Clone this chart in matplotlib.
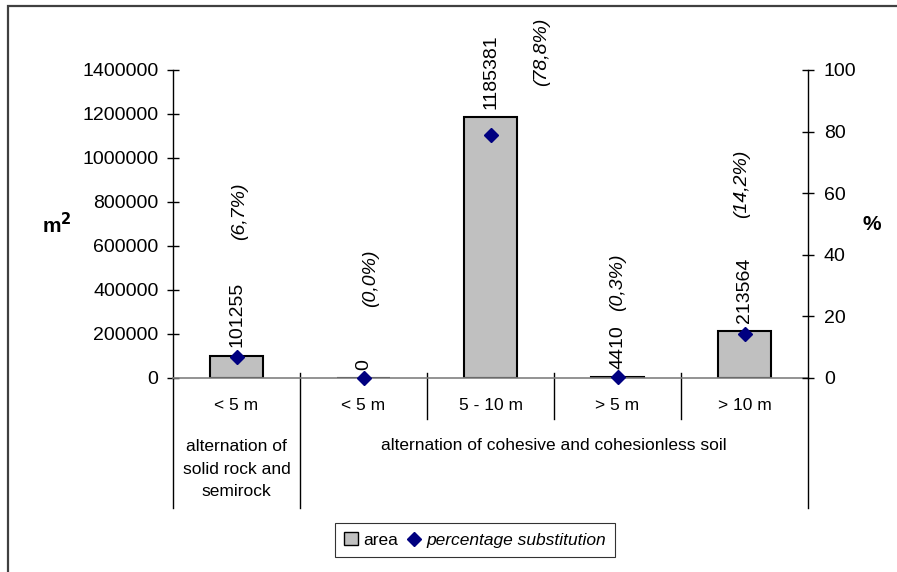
import matplotlib
matplotlib.use("Agg")
import matplotlib.pyplot as plt
from matplotlib.patches import Rectangle, Patch
from matplotlib.lines import Line2D

plt.rcParams['font.family'] = ['Liberation Sans', 'DejaVu Sans']

# ---- data ----
categories = ["< 5 m", "< 5 m", "5 - 10 m", "> 5 m", "> 10 m"]
area = [101255, 0, 1185381, 4410, 213564]
percent = [6.7, 0.0, 78.8, 0.3, 14.2]
percent_labels = ["(6,7%)", "(0,0%)", "(78,8%)", "(0,3%)", "(14,2%)"]
groups = ["alternation of\nsolid rock and\nsemirock",
          "alternation of cohesive and cohesionless soil"]
group_spans = [(0, 0), (1, 4)]
left_ticks = [0, 200000, 400000, 600000, 800000, 1000000, 1200000, 1400000]
right_ticks = [0, 20, 40, 60, 80, 100]

# label offsets (points) for percentage labels relative to diamond
pct_offsets = [(2, 105), (5, 72), (37, 60), (0, 68), (-2, 108)]

W, H = 897, 572
fig = plt.figure(figsize=(W / 100, H / 100), dpi=100)

def px(x0, y0, x1, y1):
    return [x0 / W, 1 - y1 / H, (x1 - x0) / W, (y1 - y0) / H]

ax = fig.add_axes(px(173, 70, 808, 378))
ax2 = ax.twinx()

n = len(categories)
xs = list(range(n))
ax.bar(xs, area, width=0.41, color="#C0C0C0", edgecolor="black", linewidth=1.5, zorder=2)
ax.set_xlim(-0.5, n - 0.5)
ax.set_ylim(0, 1400000)
ax.set_yticks(left_ticks)
ax.set_yticklabels([str(v) for v in left_ticks])
ax2.set_ylim(0, 100)
ax2.set_yticks(right_ticks)
ax2.set_yticklabels([str(v) for v in right_ticks])

ax2.plot(xs, percent, linestyle="none", marker="D", markersize=7.5,
         color="#000080", zorder=5, clip_on=False)

for a in (ax, ax2):
    a.spines['top'].set_visible(False)
    a.set_xticks([])
    a.patch.set_visible(False)
ax.spines['right'].set_visible(False)
ax2.spines['left'].set_visible(False)
ax2.spines['bottom'].set_visible(False)
ax.spines['bottom'].set_color("#808080")
ax.spines['bottom'].set_linewidth(1.2)
ax.spines['left'].set_linewidth(1.0)
ax2.spines['right'].set_linewidth(1.0)

ax.tick_params(axis='y', direction='inout', length=9, width=1.0, labelsize=14, pad=6)
ax2.tick_params(axis='y', direction='inout', length=9, width=1.0, labelsize=14, pad=7)

# value labels
for x, v in zip(xs, area):
    ax.annotate(str(v), (x, v), xytext=(0, 6), textcoords="offset points",
                rotation=90, ha="center", va="bottom", fontsize=14)

# percentage labels
for x, p, lab, off in zip(xs, percent, percent_labels, pct_offsets):
    ax2.annotate(lab, (x, p), xytext=off, textcoords="offset points",
                 rotation=90, ha="center", va="center", fontsize=14,
                 fontstyle="italic")

# category axis: dividers and labels (axes coords for y)
tr = ax.get_xaxis_transform()
y_long = -(508 - 378) / 308
y_short = -(419 - 378) / 308
y_up = 5 / 308
bounds = [i - 0.5 for i in range(n + 1)]
long_bounds = {group_spans[0][0] - 0.5, group_spans[0][1] + 0.5, group_spans[1][1] + 0.5}
for b in bounds:
    ybot = y_long if b in long_bounds else y_short
    top = 0 if b in (bounds[0], bounds[-1]) else y_up
    ax.plot([b, b], [ybot, top], transform=tr, color="black", lw=1.0, clip_on=False)

for x, c in zip(xs, categories):
    ax.text(x, -(405 - 378) / 308, c, transform=tr, ha="center", va="center", fontsize=12.5)

for g, (a0, a1) in zip(groups, group_spans):
    cx = (a0 + a1) / 2
    ax.text(cx, -(469 - 378) / 308 if "\n" in g else -(446 - 378) / 308, g,
            transform=tr, ha="center", va="center",
            fontsize=12.5, linespacing=1.6)

# axis titles
fig.text(57 / W, 1 - 225 / H, "m$^\\mathbf{2}$", ha="center", va="center",
         fontsize=15, fontweight="bold")
fig.text(872 / W, 1 - 225 / H, "%", ha="center", va="center",
         fontsize=15, fontweight="bold")

# legend
handles = [Patch(facecolor="#C0C0C0", edgecolor="black", linewidth=1.0),
           Line2D([], [], linestyle="none", marker="D", markersize=7.5, color="#000080")]
leg = fig.legend(handles, ["area", "percentage substitution"], loc="center",
                 bbox_to_anchor=(475 / W, 1 - 540 / H), ncol=2, frameon=True,
                 fancybox=False, edgecolor="black", fontsize=12.5,
                 handlelength=0.8, handleheight=0.8, handletextpad=0.3,
                 columnspacing=0.5, borderpad=0.55)
leg.get_frame().set_linewidth(0.8)
leg.get_texts()[1].set_fontstyle("italic")

# outer chart border (left & top visible)
fig.patches.append(Rectangle((8 / W, -0.2), 2.0, 1.2 - 6 / H, transform=fig.transFigure,
                             fill=False, edgecolor="#404040", linewidth=1.6))

fig.savefig("out.png", dpi=100)
